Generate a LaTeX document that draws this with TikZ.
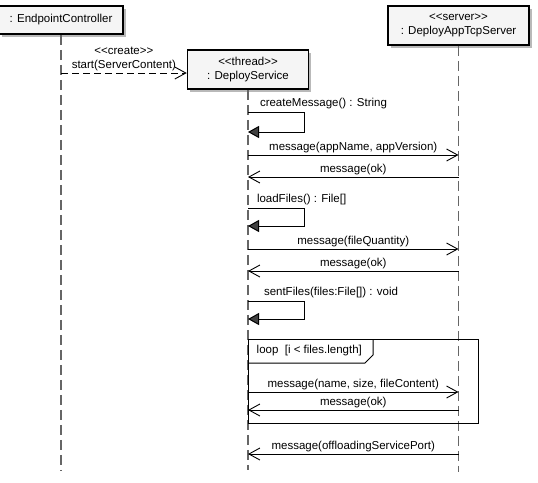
\documentclass[tikz,border=0pt]{standalone}
\usepackage{fontspec}
\setmainfont{Liberation Sans}
\usetikzlibrary{arrows.meta,shadows}
\newcommand{\stereo}[1]{<\kern0pt<#1>\kern0pt>}
\tikzset{
  object/.style={draw=black, line width=1.5pt, fill=gray!8, align=center,
    font=\fontsize{11.5}{14}\selectfont, inner sep=0pt,
    drop shadow={shadow xshift=2.5pt, shadow yshift=-2.5pt, fill=gray!55, opacity=1}},
  lifeline/.style={draw=gray!80!black, line width=1.2pt, dash pattern=on 10pt off 5pt},
  msg/.style={draw=black, line width=0.9pt, -{Straight Barb[length=11pt,width=12pt]}},
  create/.style={msg, dash pattern=on 7pt off 4pt},
  selfcall/.style={draw=black, line width=1pt, -{Triangle[length=11pt,width=12pt,fill=black!75]}},
  lbl/.style={font=\fontsize{11.5}{14}\selectfont, inner sep=1.5pt}
}
\begin{document}
\begin{tikzpicture}[x=1pt,y=-1pt]
  \useasboundingbox (0,0) rectangle (538,482);
  %%%%%%%%%%%%%The objects%%%%%%%%%%%%%%%%%%%%%%
  \node[object, minimum width=124pt, minimum height=28pt] (ec) at (61,20) {: EndpointController};
  \node[object, minimum width=121pt, minimum height=39pt] (ds) at (248,69.5) {\stereo{thread}\\: DeployService};
  \node[object, minimum width=141pt, minimum height=39pt] (srv) at (458.5,25.5) {\stereo{server}\\: DeployAppTcpServer};

  %%%%%%%%%%%%%The lifelines%%%%%%%%%%%%%%%%%%%%%%
  \coordinate (ecEnd) at (ec.south |- 0,470);
  \coordinate (dsEnd) at (ds.south |- 0,470);
  \coordinate (srvEnd) at (srv.south |- 0,472);
  \draw[lifeline] (ec.south) -- (ecEnd);
  \draw[lifeline] (ds.south) -- (dsEnd);
  \draw[lifeline] (srv.south) -- (srvEnd);

  %%%%%%%%%%%%%The create message%%%%%%%%%%%%%%%%%%%%%%
  \coordinate (cr) at (ec.south |- 0,73);
  \draw[create] (cr) -- node[lbl, above, align=center] {\stereo{create}\\start(ServerContent)} (ds.west |- cr);

  %%%%%%%%%%%%%The messages%%%%%%%%%%%%%%%%%%%%%%
  \foreach \m/\y in {a/155, b/177, c/249, d/271, e/392, f/410, g/454}{
    \coordinate (\m ds) at (ds.south |- 0,\y);
    \coordinate (\m srv) at (srv.south |- 0,\y);
  }
  \draw[msg] (ads) -- node[lbl, above] {message(appName, appVersion)} (asrv);
  \draw[msg] (bsrv) -- node[lbl, above] {message(ok)} (bds);
  \draw[msg] (cds) -- node[lbl, above] {message(fileQuantity)} (csrv);
  \draw[msg] (dsrv) -- node[lbl, above] {message(ok)} (dds);
  \draw[msg] (eds) -- node[lbl, above] {message(name, size, fileContent)} (esrv);
  \draw[msg] (fsrv) -- node[lbl, above] {message(ok)} (fds);
  \draw[msg] (gsrv) -- node[lbl, above] {message(offloadingServicePort)} (gds);

  %%%%%%%%%%%%%The self calls%%%%%%%%%%%%%%%%%%%%%%
  \foreach \c/\t/\b in {one/112/132, two/208/226, three/301/319}{
    \coordinate (\c top) at (ds.south |- 0,\t);
    \coordinate (\c bot) at (ds.south |- 0,\b);
  }
  \draw[selfcall] (onetop) -- node[lbl, pos=0, anchor=south west, xshift=10pt, yshift=1.5pt] {createMessage() : String} ++(56,0) |- (onebot);
  \draw[selfcall] (twotop) -- node[lbl, pos=0, anchor=south west, xshift=7pt, yshift=1.5pt] {loadFiles() : File[]} ++(56,0) |- (twobot);
  \draw[selfcall] (threetop) -- node[lbl, pos=0, anchor=south west, xshift=14pt, yshift=1.5pt] {sentFiles(files:File[]) : void} ++(56,0) |- (threebot);

  %%%%%%%%%%%%%The loop frame%%%%%%%%%%%%%%%%%%%%%%
  \draw[line width=1pt] (248,339) rectangle (478,423);
  \draw[line width=1pt] (248,363) -- (365,363) -- (373,355) -- (373,339);
  \node[lbl, anchor=west] (lp) at (255,351) {loop\ \ [i < files.length]};
\end{tikzpicture}
\end{document}
